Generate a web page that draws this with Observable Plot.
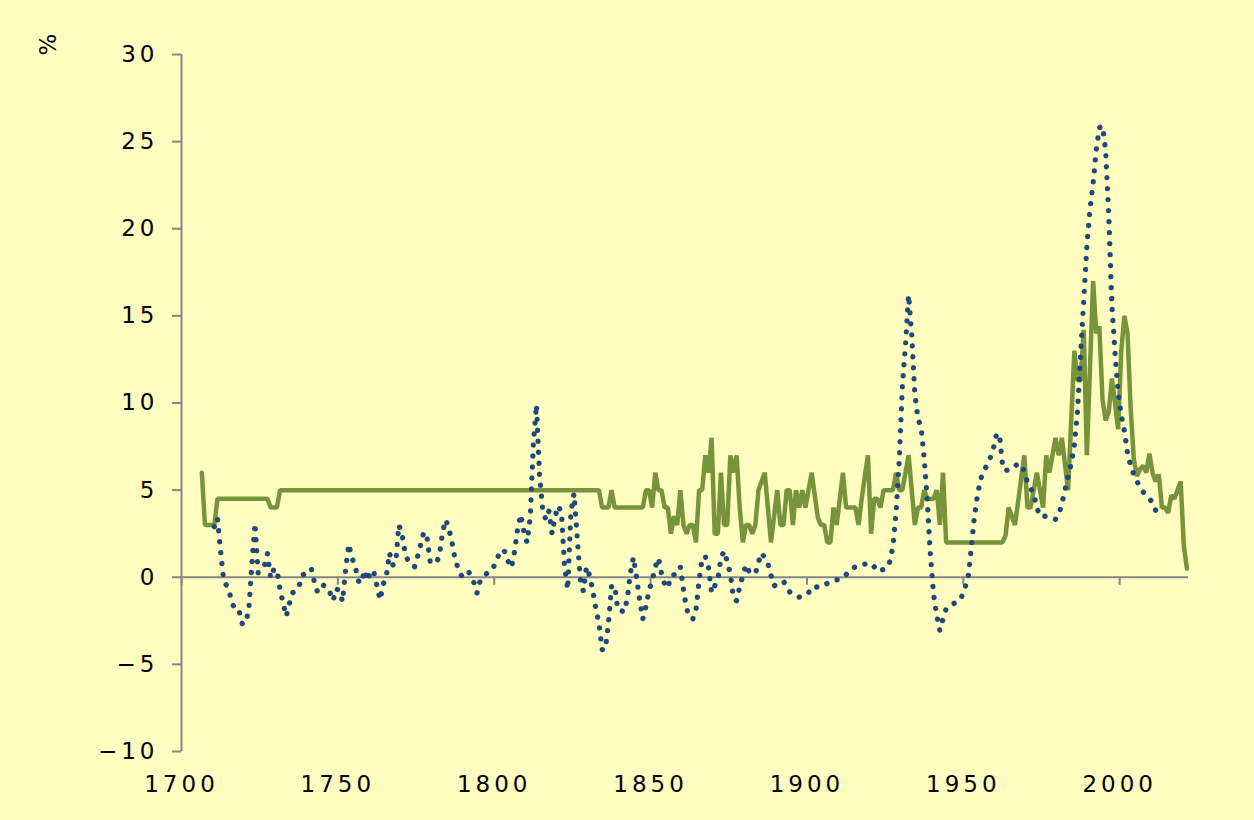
<!DOCTYPE html>
<html><head><meta charset="utf-8">
<script src="https://cdn.jsdelivr.net/npm/d3@7"></script>
<script src="https://cdn.jsdelivr.net/npm/@observablehq/plot@0.6"></script>
<style>
html,body{margin:0;padding:0;background:#FFFDC0;}
#chart{width:1254px;height:820px;}
svg text{letter-spacing:4px;}
</style></head><body><div id="chart"></div>
<script>
// Blue dotted series: annual values 1710–2011 (%)
const blueYears = d3.range(1710, 2012);
const blueValues = [
  2.9, 3.4, 1.5, -0.2, -0.5, -1.0, -1.6, -2.0, -2.0, -2.7,
  -2.6, -1.9, 0.7, 3.1, 0.25, 0.45, 0.65, 1.35, -0.05, 0.45,
  0.45, -0.7, -1.5, -2.25, -1.5, -0.9, -0.75, -0.6, 0.1, 0.2,
  0.35, 0.5, -0.3, -0.85, -0.8, -0.45, -0.6, -0.9, -1.35, -0.65,
  -0.8, -1.4, 0.5, 1.9, 1.1, 0.7, -0.2, -0.35, 0.4, -0.2,
  0.4, 0.3, -0.5, -1.3, -0.4, 0.05, 1.4, 0.7, 0.8, 3.0,
  2.5, 1.4, 0.9, 0.7, 0.6, 1.2, 1.9, 2.6, 2.3, 0.9,
  0.85, 0.8, 1.3, 2.6, 3.3, 2.8, 2.0, 1.0, 0.5, 0.1,
  0.2, 0.4, 0.1, -0.3, -0.9, -0.2, 0.05, 0.2, 0.35, 0.45,
  0.9, 1.3, 1.6, 1.45, 0.9, 0.55, 1.5, 2.8, 3.6, 2.6,
  2.0, 3.4, 7.6, 9.9, 5.8, 3.9, 3.3, 3.8, 2.5, 3.5,
  4.1, 3.7, 0.6, -0.7, 3.7, 4.8, 2.4, -0.1, -0.8, 0.6,
  0.1, -0.75, -1.8, -2.7, -4.15, -4.15, -2.7, -0.55, -0.45, -1.85,
  -1.9, -2.0, -1.3, 0.2, 1.15, 0.0, -1.3, -2.4, -1.67, -0.75,
  -0.2, 0.6, 1.1, 0.2, -0.4, -0.62, 0.07, 0.15, 0.35, 0.61,
  -0.7, -1.8, -2.3, -2.4, -1.9, -0.2, 1.1, 1.2, 0.6, -0.89,
  -0.5, -0.1, 1.1, 1.5, 0.9, 0.2, -1.2, -1.35, -0.55, 0.1,
  0.72, 0.32, 0.3, 0.2, 0.88, 1.4, 1.1, 0.8, 0.1, -0.5,
  -0.4, -0.3, -0.24, -0.5, -0.85, -0.95, -1.05, -1.14, -1.05, -0.95,
  -0.9, -0.56, -0.56, -0.56, -0.56, -0.45, -0.35, -0.25, -0.2, -0.15,
  -0.1, -0.04, 0.15, 0.38, 0.5, 0.6, 0.69, 0.72, 0.75, 0.78,
  0.8, 0.6, 0.34, 0.4, 0.45, 0.53, 0.9, 1.78, 3.7, 6.7,
  10.95, 13.3, 16.2, 13.9, 10.5, 9.1, 8.6, 6.8, 4.3, 1.2,
  -1.0, -2.2, -3.06, -2.4, -1.8, -1.65, -1.55, -1.45, -1.39, -1.1,
  -0.6, -0.1, 1.6, 3.4, 4.7, 5.6, 6.1, 6.4, 6.8, 7.3,
  8.1, 8.25, 6.5, 6.1, 6.2, 6.25, 6.35, 6.55, 6.4, 6.1,
  5.45, 5.1, 4.8, 4.0, 3.5, 3.5, 3.5, 3.45, 3.4, 3.33,
  3.6, 4.2, 5.0, 5.8, 6.5, 7.6, 9.5, 12.8, 15.9, 19.0,
  21.1, 22.6, 24.5, 25.8, 25.9, 24.5, 20.8, 15.6, 12.9, 10.6,
  9.3, 8.4, 7.1, 6.4, 5.9, 5.5, 5.2, 4.9, 4.7, 4.5,
  4.3, 3.83
];

// Green solid series: years where the rate changes, and the rate (%)
const greenYears = [
  1706, 1707, 1710, 1711, 1727, 1728, 1730, 1731, 1833, 1834, 1836, 1837, 1838, 1847, 1848, 1849, 1850,
  1851, 1852, 1853, 1854, 1855, 1856, 1857, 1858, 1859, 1860, 1861, 1862, 1863, 1864, 1865, 1866, 1867,
  1868, 1869, 1870, 1871, 1872, 1873, 1874, 1875, 1876, 1877, 1878, 1879, 1880, 1881, 1882, 1883, 1884,
  1885, 1886, 1887, 1888, 1889, 1890, 1891, 1892, 1893, 1894, 1895, 1896, 1897, 1898, 1899, 1900, 1901,
  1902, 1903, 1904, 1905, 1906, 1907, 1908, 1909, 1910, 1911, 1912, 1915, 1916, 1917, 1918, 1919, 1920,
  1921, 1922, 1923, 1924, 1927, 1928, 1929, 1930, 1931, 1932, 1933, 1934, 1935, 1936, 1937, 1938, 1940,
  1941, 1942, 1943, 1944, 1962, 1963, 1964, 1965, 1966, 1967, 1968, 1969, 1970, 1971, 1972, 1973, 1974,
  1975, 1976, 1977, 1978, 1979, 1980, 1981, 1982, 1983, 1984, 1985, 1986, 1987, 1988, 1989, 1990, 1991,
  1992, 1993, 1994, 1995, 1996, 1997, 1998, 1999, 2000, 2001, 2002, 2003, 2004, 2005, 2006, 2007, 2008,
  2009, 2010, 2011, 2012, 2013, 2014, 2015, 2016, 2017, 2018, 2019, 2020, 2021
];
const greenRates = [
  6, 3, 3, 4.5, 4.5, 4, 4, 5, 5, 4, 4, 5, 4, 4, 5, 5, 4,
  6, 5, 5, 4, 4, 2.5, 3.5, 3, 5, 3, 2.5, 3, 3, 2, 5, 5, 7,
  6, 8, 2.5, 2.5, 6, 3, 3, 7, 6, 7, 4, 2, 3, 3, 2.5, 3, 5,
  5.5, 6, 4, 2, 3.5, 5, 3, 3, 5, 5, 3, 5, 4, 5, 4, 5, 6,
  4.7, 3.4, 3, 3, 2, 2, 4, 3, 4.5, 6, 4, 4, 3, 4.5, 5.8, 7, 2.5,
  4.5, 4.5, 4, 5, 5, 6, 5, 5, 6, 7, 5, 3, 4, 4, 5, 4.5, 4.5,
  5, 3, 6, 2, 2, 2.4, 4, 3.5, 3, 4.3, 5.7, 7, 4, 4, 5, 6, 5,
  4, 7, 6, 7, 8, 7, 8, 6.5, 5, 9, 13, 11.3, 11.3, 14.2, 7, 12, 17,
  14, 14.4, 10.2, 9, 9.5, 11.4, 10, 8.5, 13, 15, 14, 9.7, 6.8, 5.8, 6.2, 6.4, 6,
  7.1, 6, 5.5, 5.9, 4, 4, 3.7, 4.7, 4.5, 5, 5.5, 1.8, 0.5
];

const xTicks = [1700, 1750, 1800, 1850, 1900, 1950, 2000];
const yTicks = [-10, -5, 0, 5, 10, 15, 20, 25, 30];

const blue = blueYears.map((year, i) => ({year, value: blueValues[i]}));
const green = greenYears.map((year, i) => ({year, rate: greenRates[i]}));

const W = 1254, H = 820, mL = 181, mR = 66, mT = 54, mB = 69;
const plotH = H - mT - mB;
const tickLen = 8 * 40 / plotH;
const axisGrey = "#868686";

const chart = Plot.plot({
  width: W, height: H,
  marginLeft: mL, marginRight: mR, marginTop: mT, marginBottom: mB,
  style: {background: "#FFFDC0", fontFamily: "'DejaVu Sans', sans-serif", fontSize: "23px", color: "#000"},
  x: {domain: [1700, 2022]},
  y: {domain: [-10, 30]},
  marks: [
    Plot.ruleY([0], {stroke: axisGrey, strokeWidth: 2}),
    Plot.ruleX(xTicks, {x: d => d, y1: 0, y2: -tickLen, stroke: axisGrey, strokeWidth: 2}),
    Plot.ruleX([1700], {stroke: axisGrey, strokeWidth: 2}),
    Plot.axisY({ticks: yTicks, tickSize: 9, tickPadding: 14, stroke: axisGrey, strokeWidth: 2, strokeOpacity: 1,
      fill: "#000", fontSize: 23, label: null}),
    Plot.axisX({ticks: xTicks, tickSize: 0, tickPadding: 24, tickFormat: d => String(d), fill: "#000",
      fontSize: 23, label: null}),
    Plot.line(green, {x: d => d.year + 0.5, y: "rate", stroke: "#77933C", strokeWidth: 4.5,
      strokeLinejoin: "miter", strokeLinecap: "round"}),
    Plot.line(blue, {x: d => d.year + 0.5, y: "value", stroke: "#1F497D", strokeWidth: 5.3,
      strokeDasharray: "0.1 10.9", strokeLinecap: "round"}),
    Plot.text(["%"], {frameAnchor: "top-left", dx: -133, dy: -12, fontSize: 23, rotate: -90,
      textAnchor: "middle", lineAnchor: "middle", fill: "#000"})
  ]
});
document.getElementById("chart").appendChild(chart);
</script>
</body></html>
